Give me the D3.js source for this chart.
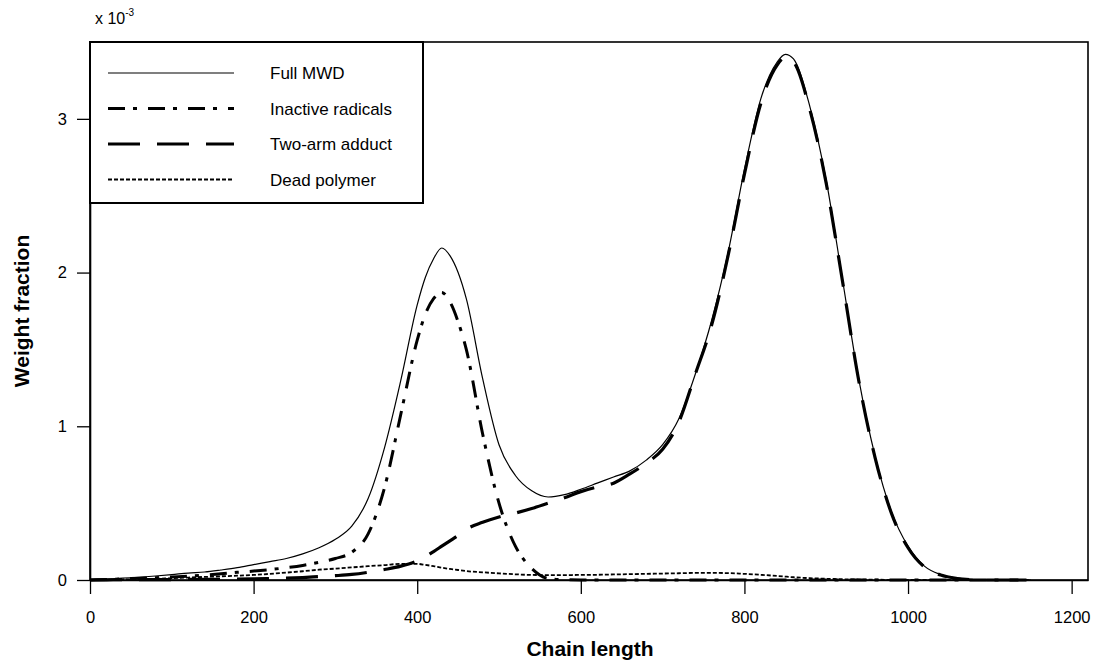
<!DOCTYPE html>
<html>
<head>
<meta charset="utf-8">
<script src="https://cdn.jsdelivr.net/npm/d3@7"></script>
<style>
    body { margin: 0; background: #fff; }
    text { font-family: "Liberation Sans", Arial, sans-serif; fill: #000; }
</style>
</head>
<body>
<div id="chart"></div>
<script>
// chain length grid (x values)
const chainLength = [0, 20, 40, 60, 80, 100, 120, 140, 160, 180, 200, 220, 240, 260, 280, 300,
    320, 340, 360, 380, 400, 410, 420, 430, 440, 450, 460, 480, 500, 520, 540, 560, 580, 600, 620, 640,
    660, 680, 700, 720, 740, 760, 780, 800, 820, 840, 850, 860, 880, 900, 920, 940, 960, 980,
    1000, 1020, 1040, 1060, 1080, 1100, 1120, 1150];

// weight fraction, units of 1e-3
const fullMWD = [0, 0.005, 0.012, 0.018, 0.026, 0.035, 0.045, 0.052, 0.065, 0.08, 0.10, 0.12, 0.14, 0.17, 0.21, 0.265,
    0.35, 0.53, 0.86, 1.30, 1.79, 1.97, 2.09, 2.16, 2.11, 2.00, 1.83, 1.31, 0.88, 0.68, 0.58, 0.54, 0.555, 0.59, 0.63, 0.67,
    0.71, 0.78, 0.88, 1.05, 1.34, 1.69, 2.13, 2.67, 3.13, 3.37, 3.42, 3.39, 3.08, 2.60, 1.95, 1.30, 0.80, 0.44,
    0.22, 0.09, 0.035, 0.012, 0.003, 0, 0, 0];

const inactiveRadicals = [0, 0.003, 0.007, 0.011, 0.015, 0.02, 0.025, 0.032, 0.04, 0.05, 0.058, 0.068, 0.08, 0.095, 0.115, 0.14,
    0.18, 0.30, 0.60, 1.08, 1.56, 1.73, 1.83, 1.87, 1.81, 1.68, 1.50, 0.95, 0.50, 0.22, 0.075, 0.01, 0.002, 0, 0, 0,
    0, 0, 0, 0, 0, 0, 0, 0, 0, 0, 0, 0, 0, 0, 0, 0, 0, 0,
    0, 0, 0, 0, 0, 0, 0, 0];

const twoArmAdduct = [0, 0.001, 0.002, 0.002, 0.003, 0.003, 0.004, 0.004, 0.005, 0.006, 0.007, 0.009, 0.012, 0.016, 0.022, 0.028,
    0.036, 0.05, 0.068, 0.09, 0.125, 0.152, 0.185, 0.22, 0.255, 0.29, 0.33, 0.375, 0.41, 0.435, 0.465, 0.50, 0.535, 0.575, 0.605, 0.63,
    0.69, 0.76, 0.85, 1.03, 1.34, 1.66, 2.11, 2.64, 3.10, 3.35, 3.40, 3.37, 3.06, 2.58, 1.94, 1.29, 0.79, 0.43,
    0.21, 0.085, 0.032, 0.01, 0.002, 0, 0, 0];

const deadPolymer = [0, 0.001, 0.003, 0.005, 0.008, 0.012, 0.016, 0.02, 0.024, 0.028, 0.033, 0.04, 0.048, 0.057, 0.067, 0.074,
    0.082, 0.09, 0.097, 0.105, 0.105, 0.098, 0.09, 0.08, 0.072, 0.065, 0.058, 0.05, 0.043, 0.037, 0.033, 0.032, 0.032, 0.033, 0.034, 0.036,
    0.038, 0.04, 0.042, 0.044, 0.046, 0.046, 0.045, 0.04, 0.034, 0.026, 0.022, 0.018, 0.012, 0.008, 0.005, 0.003, 0.002, 0.001,
    0, 0, 0, 0, 0, 0, 0, 0];

const seriesNames = ["Full MWD", "Inactive radicals", "Two-arm adduct", "Dead polymer"];
const xTicks = [0, 200, 400, 600, 800, 1000, 1200];
const yTicks = [0, 1, 2, 3];

class LineVis {
    constructor(parentElement) {
        this.parentElement = parentElement;
        this.initVis();
    }

    initVis() {
        let vis = this;

        vis.margin = {top: 42, right: 7, bottom: 81, left: 90};
        vis.width = 1095 - vis.margin.left - vis.margin.right;
        vis.height = 661 - vis.margin.top - vis.margin.bottom;

        vis.svg = d3.select("#" + vis.parentElement).append("svg")
            .attr("width", 1095)
            .attr("height", 661)
            .append("g")
            .attr("transform", `translate(${vis.margin.left}, ${vis.margin.top})`);

        vis.x = d3.scaleLinear().domain([0, 1220]).range([0, vis.width]);
        vis.y = d3.scaleLinear().domain([0, 3.5]).range([vis.height, 0]);

        // line styles per series
        vis.styles = [
            {width: 1.2, dash: null},
            {width: 3, dash: "17,8,4,11"},
            {width: 3.2, dash: "32,17"},
            {width: 1.8, dash: "4,2"}
        ];

        vis.series = [fullMWD, inactiveRadicals, twoArmAdduct, deadPolymer].map((vals, i) => ({
            name: seriesNames[i],
            style: vis.styles[i],
            values: chainLength.map((c, j) => ({x: c, y: vals[j]}))
        }));

        vis.updateVis();
    }

    updateVis() {
        let vis = this;

        vis.line = d3.line()
            .x(d => vis.x(d.x))
            .y(d => vis.y(d.y))
            .curve(d3.curveMonotoneX);

        // frame
        vis.svg.append("rect")
            .attr("x", 0).attr("y", 0)
            .attr("width", vis.width).attr("height", vis.height)
            .attr("fill", "none")
            .attr("stroke", "#000")
            .attr("stroke-width", 1.6);

        // curves, solid one drawn last so it sits on top
        vis.svg.selectAll(".curve")
            .data(vis.series.slice().reverse())
            .enter()
            .append("path")
            .attr("class", "curve")
            .attr("d", d => vis.line(d.values))
            .attr("fill", "none")
            .attr("stroke", "#000")
            .attr("stroke-width", d => d.style.width)
            .attr("stroke-dasharray", d => d.style.dash);

        // axes
        let xAxis = vis.svg.append("g")
            .attr("transform", `translate(0,${vis.height})`)
            .call(d3.axisBottom(vis.x).tickValues(xTicks).tickFormat(d3.format("d"))
                .tickSize(14).tickPadding(17).tickSizeOuter(0));
        let yAxis = vis.svg.append("g")
            .call(d3.axisLeft(vis.y).tickValues(yTicks).tickFormat(d3.format("d"))
                .tickSize(13).tickPadding(10).tickSizeOuter(0));

        [xAxis, yAxis].forEach(ax => {
            ax.select(".domain").attr("stroke-width", 1.6);
            ax.selectAll(".tick line").attr("stroke-width", 1.3);
            ax.selectAll("text")
                .style("font-family", "'Liberation Sans', Arial, sans-serif")
                .style("font-size", "16.5px");
        });

        // exponent label
        let expo = vis.svg.append("text")
            .attr("x", 5)
            .attr("y", -18)
            .style("font-size", "16px");
        expo.append("tspan").text("x 10");
        expo.append("tspan")
            .attr("dy", -8)
            .style("font-size", "10px")
            .text("-3");

        // axis titles
        vis.svg.append("text")
            .attr("x", 500)
            .attr("y", vis.height + 76)
            .style("text-anchor", "middle")
            .style("font-size", "21px")
            .style("font-weight", "bold")
            .text("Chain length");

        vis.svg.append("text")
            .attr("transform", `translate(-61,${vis.height / 2}) rotate(-90)`)
            .style("text-anchor", "middle")
            .style("font-size", "21px")
            .style("font-weight", "bold")
            .text("Weight fraction");

        // legend
        let legend = vis.svg.append("g");
        legend.append("rect")
            .attr("x", 0).attr("y", 0)
            .attr("width", 333).attr("height", 161)
            .attr("fill", "#fff")
            .attr("stroke", "#000")
            .attr("stroke-width", 2);

        let rows = legend.selectAll(".row")
            .data(vis.series)
            .enter()
            .append("g")
            .attr("class", "row")
            .attr("transform", (d, i) => `translate(0,${31 + i * 35.5})`);

        rows.append("line")
            .attr("x1", 18).attr("x2", 144)
            .attr("y1", 0).attr("y2", 0)
            .attr("stroke", "#000")
            .attr("stroke-width", d => d.style.width)
            .attr("stroke-dasharray", d => d.style.dash);

        rows.append("text")
            .attr("x", 180)
            .attr("y", 6)
            .style("font-size", "17px")
            .text(d => d.name);
    }
}

new LineVis("chart");
</script>
</body>
</html>
